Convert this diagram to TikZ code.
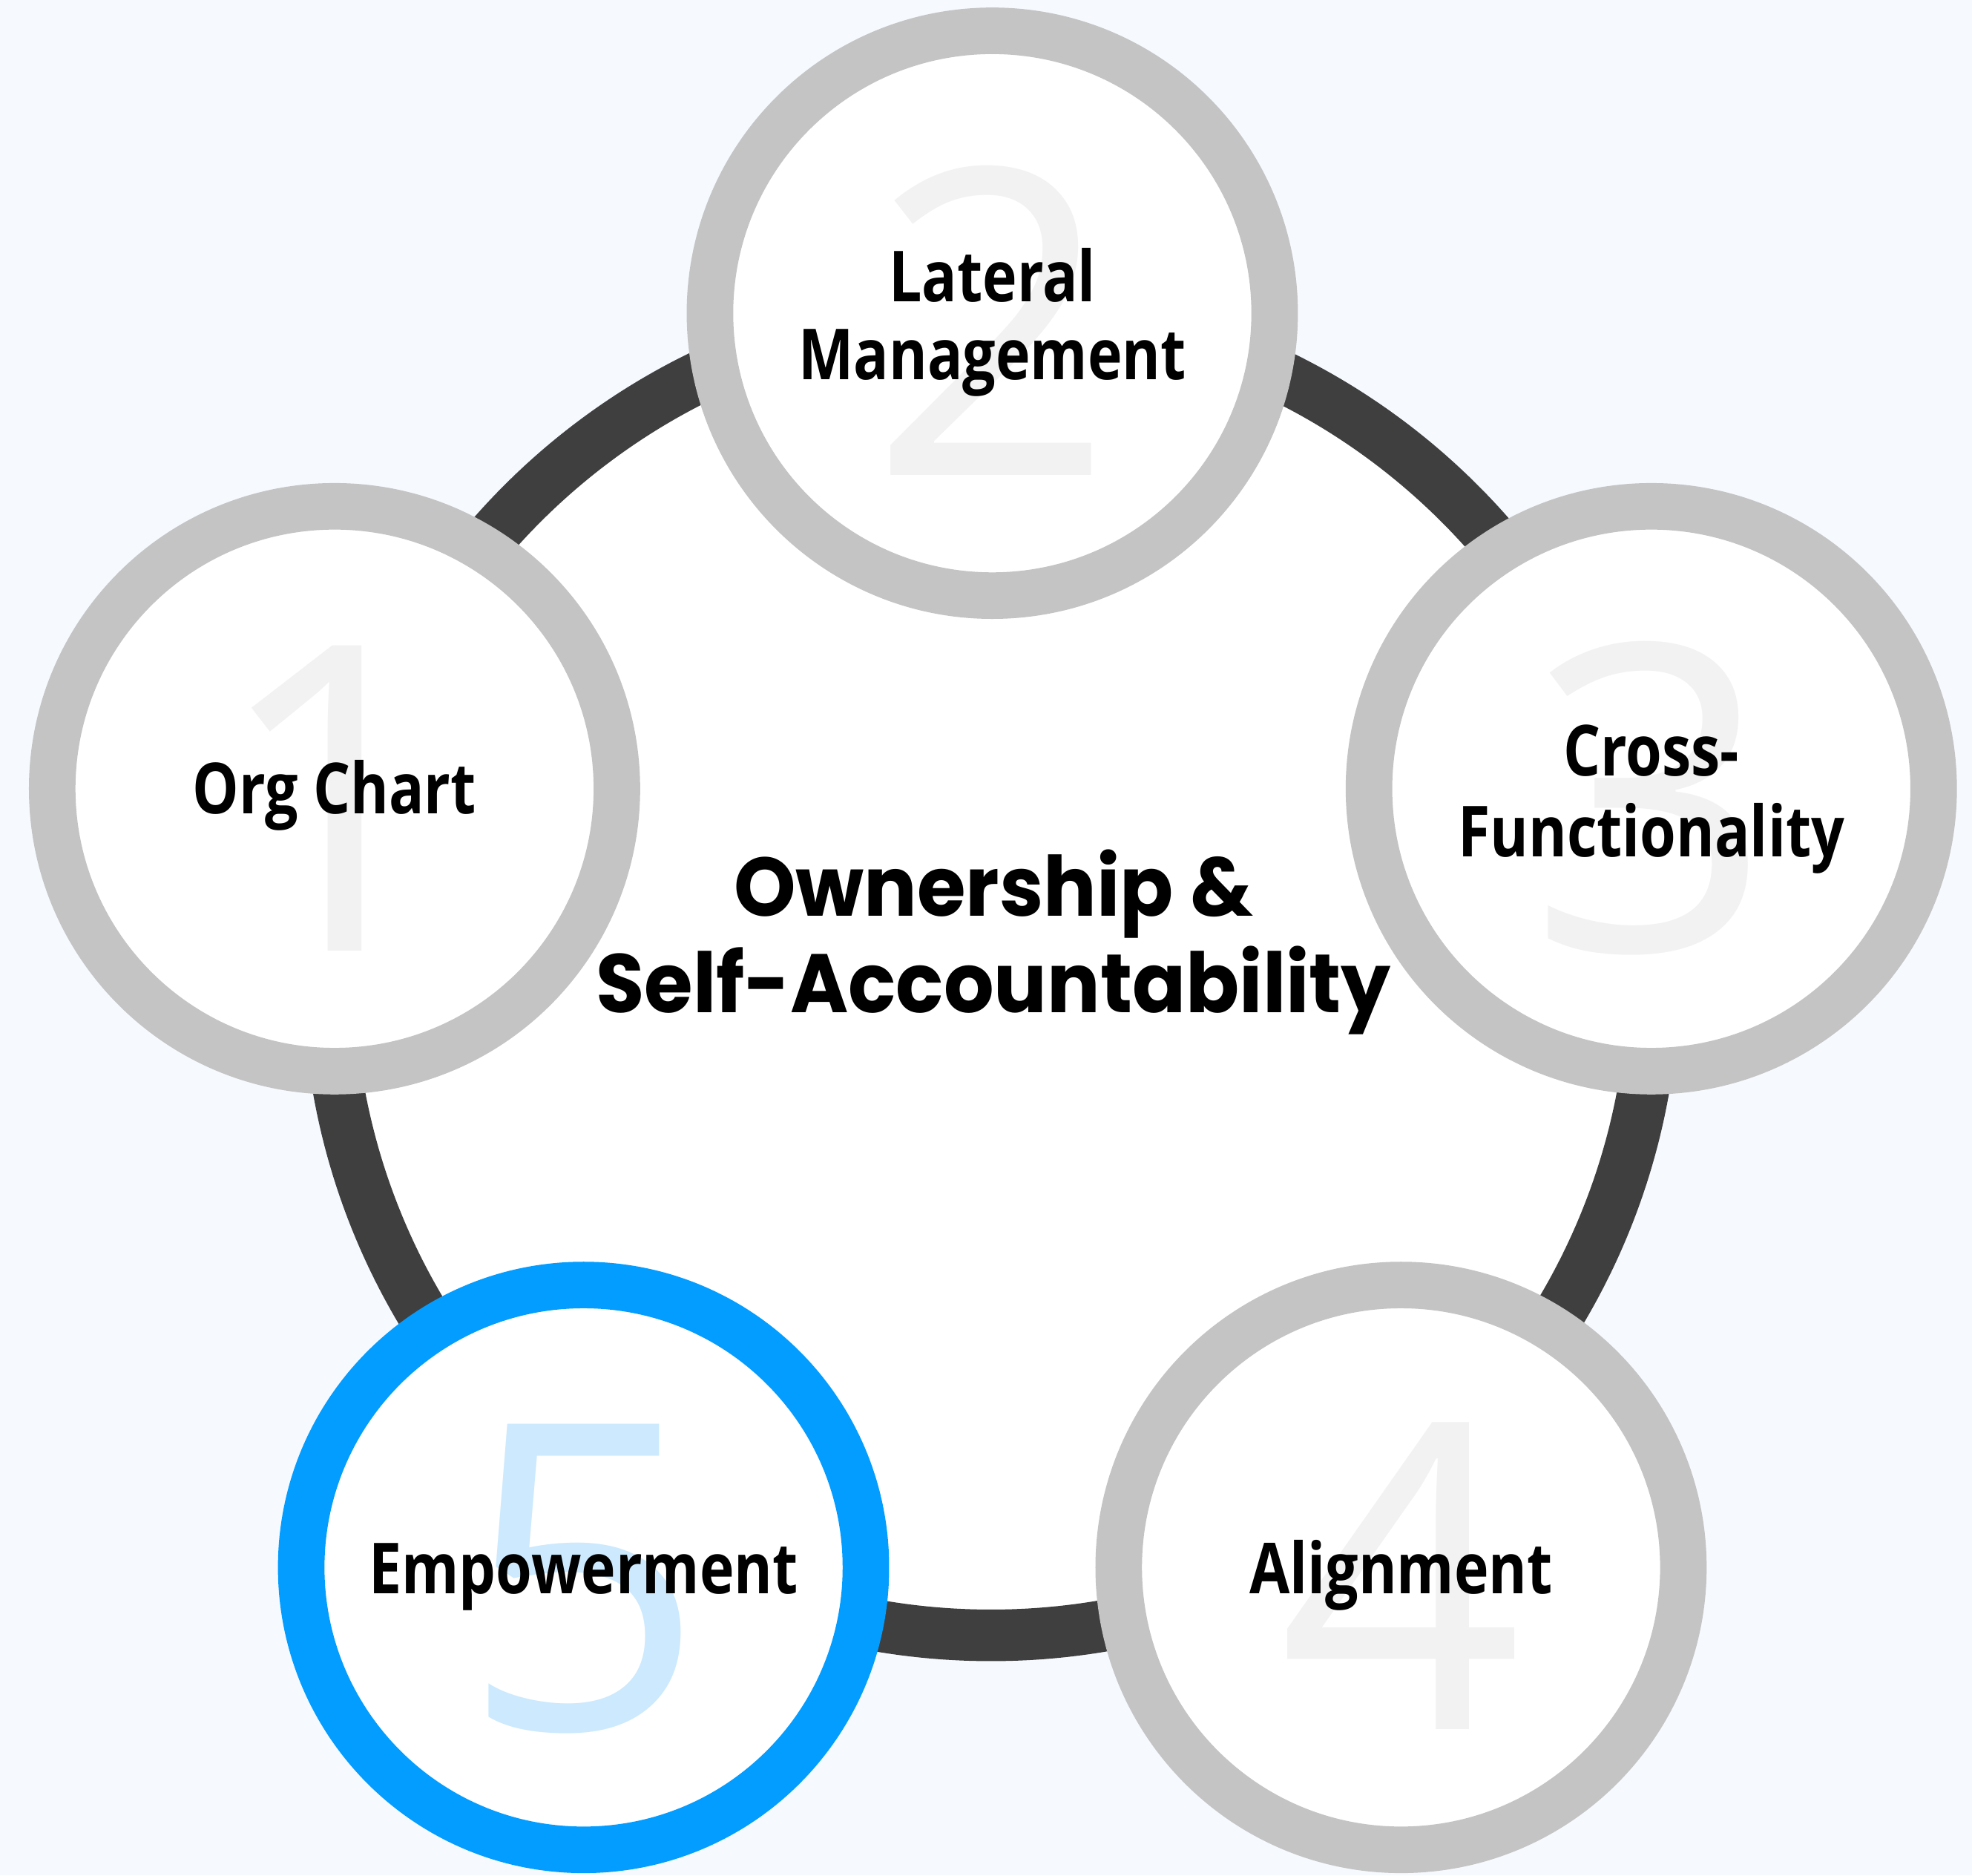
\documentclass[tikz,border=0pt]{standalone}
\usepackage{fontspec}
\usetikzlibrary{calc}
\setmainfont{Open Sans}
\newfontfamily\labelfont{Open Sans}[FakeStretch=0.83]
\newfontfamily\hubfont{Poppins}[FakeStretch=0.95]
\newfontfamily\digitfont{Open Sans}

\definecolor{bg}{HTML}{F6FAFE}
\definecolor{ringdark}{HTML}{3F3F3F}
\definecolor{ringgray}{HTML}{C4C4C4}
\definecolor{accent}{HTML}{039DFF}
\definecolor{numgray}{HTML}{F2F2F2}
\definecolor{numblue}{HTML}{CCE9FD}

\begin{document}
\begin{tikzpicture}[x=0.5pt,y=-0.5pt,
  hubring/.style={circle, draw=ringdark, line width=20.5pt, fill=white,
    minimum size=527pt, inner sep=0pt},
  stage/.style={circle, draw=ringgray, line width=18.5pt, fill=white,
    minimum size=224.5pt, inner sep=0pt},
  activestage/.style={stage, draw=accent},
  numeral/.style={anchor=base, inner sep=0pt, text=numgray,
    font=\digitfont\fontsize{170}{170}\selectfont},
  activenumeral/.style={numeral, text=numblue},
  caption/.style={anchor=base, inner sep=0pt,
    font=\labelfont\bfseries\fontsize{28}{32}\selectfont},
  hubtext/.style={anchor=base, inner sep=0pt,
    font=\hubfont\bfseries\fontsize{33}{40}\selectfont},
]
% page background
\fill[bg] (0,0) rectangle (1568,1491);
\useasboundingbox (0,0) rectangle (1568,1491);

% central ring
\node[hubring] (hub) at (788,773) {};

% the five stages
\node[stage]       (s1) at (266,627)  {};
\node[stage]       (s2) at (789,249)  {};
\node[stage]       (s3) at (1313,627) {};
\node[stage]       (s4) at (1114,1246) {};
\node[activestage] (s5) at (464,1246) {};

% large background numerals
\node[numeral]       (n1) at ($(s1)+(0,129)$) {1};
\node[numeral]       (n2) at ($(s2)+(0,129)$) {2};
\node[numeral]       (n3) at ($(s3)+(0,129)$) {3};
\node[numeral]       (n4) at ($(s4)+(0,129)$) {4};
\node[activenumeral] (n5) at ($(s5)+(0,129)$) {5};

% stage captions
\node[caption] (t1)  at ($(s1)+(0,20)$)  {Org Chart};
\node[caption] (t2a) at ($(s2)+(0,-9)$)  {Lateral};
\node[caption] (t2b) at ($(s2)+(0,53)$)  {Management};
\node[caption] (t3a) at ($(s3)+(0,-10)$) {Cross-};
\node[caption] (t3b) at ($(s3)+(0,54)$)  {Functionality};
\node[caption] (t4)  at ($(s4)+(0,21)$)  {Alignment};
\node[caption] (t5)  at ($(s5)+(0,21)$)  {Empowerment};

% central statement
\node[hubtext] (h1) at (790,728) {Ownership \&};
\node[hubtext] (h2) at (790,805) {Self-Accountability};
\end{tikzpicture}
\end{document}
